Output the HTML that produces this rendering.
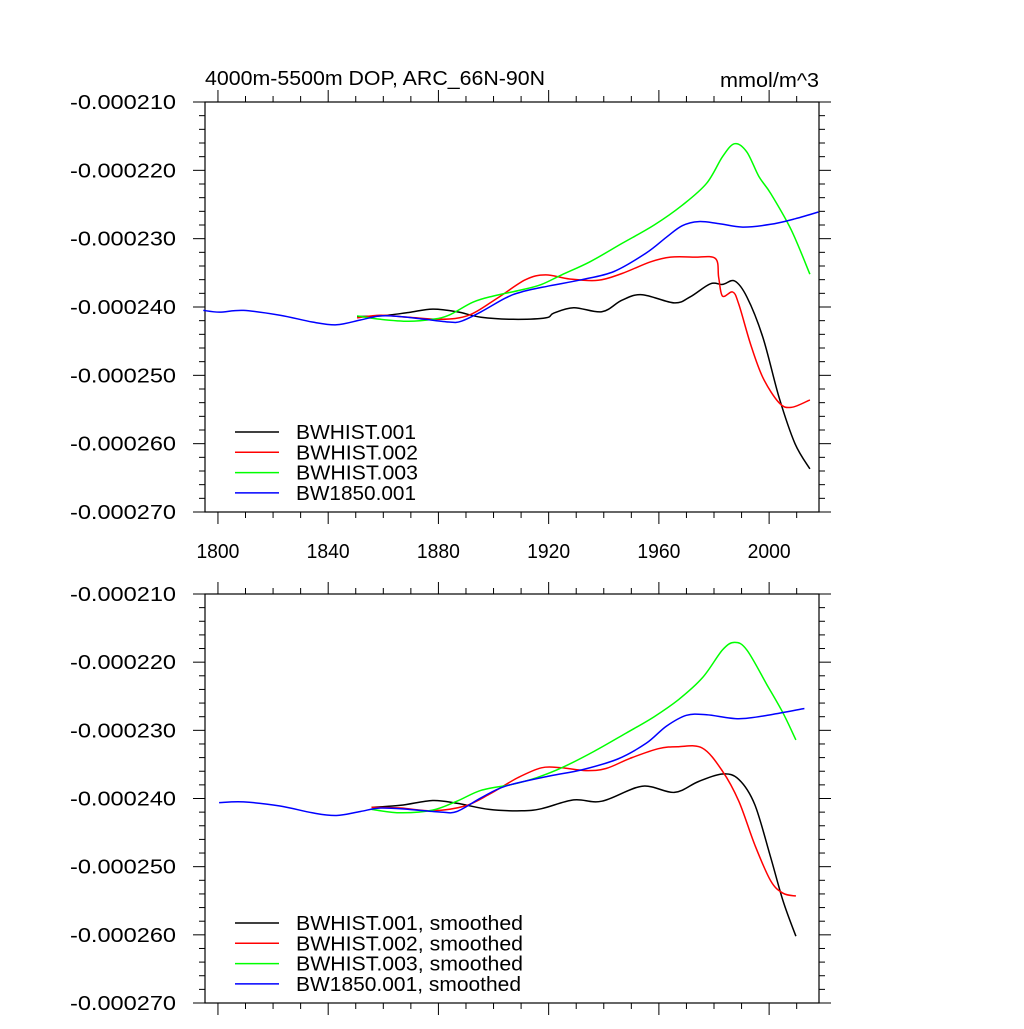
<!DOCTYPE html>
<html><head><meta charset="utf-8"><style>
body{margin:0;background:#fff}
svg text{font-family:"Liberation Sans",sans-serif;fill:#000}
</style></head><body>
<svg id="c" width="1024" height="1024" viewBox="0 0 1024 1024" xmlns="http://www.w3.org/2000/svg"></svg>
<script>
const xTickYears=[1800,1840,1880,1920,1960,2000];
const yTickVals=[-210,-220,-230,-240,-250,-260,-270];
const yTickLabels=["-0.000210","-0.000220","-0.000230","-0.000240","-0.000250","-0.000260","-0.000270"];
const seriesNames=["BWHIST.001","BWHIST.002","BWHIST.003","BW1850.001"];
const seriesColors=["#000","#f00","#0f0","#00f"];
// top panel (values in 1e-6 mmol/m^3)
const t1Years=[1850.5,1859,1869.2,1877.9,1886.7,1895.5,1907.1,1918.9,1921.8,1929.1,1939.3,1946.6,1953.9,1965.6,1971.4,1978.7,1983.1,1987.5,1991.9,1997.7,2003.6,2009.4,2014.8];
const t1Vals=[-241.4,-241.3,-240.8,-240.3,-240.7,-241.5,-241.8,-241.6,-240.9,-240.1,-240.7,-239.0,-238.2,-239.4,-238.5,-236.6,-236.7,-236.2,-238.5,-244.4,-253.2,-260.0,-263.7];
const t2Years=[1850.5,1859,1869.2,1880.9,1891.1,1901.4,1911.6,1918.9,1927.6,1937.9,1946.6,1956.9,1964.2,1972.9,1980.5,1981.7,1983.1,1986.8,1989,1993.3,1997.7,2003.6,2008,2014.8];
const t2Vals=[-241.6,-241.2,-241.5,-241.8,-241.2,-238.7,-236.0,-235.3,-235.9,-236.1,-235.1,-233.4,-232.7,-232.7,-232.9,-235.7,-238.4,-237.8,-239.6,-245.5,-250.3,-254.0,-254.7,-253.6];
const t3Years=[1850.5,1859,1869.2,1877.9,1883.8,1892.5,1899.8,1910.1,1917.4,1924.7,1934.9,1946.6,1958.3,1968.5,1977.3,1983.1,1987.5,1991.9,1996.3,2000.6,2008,2014.8];
const t3Vals=[-241.3,-241.8,-242.1,-241.8,-241.2,-239.3,-238.4,-237.5,-236.7,-235.3,-233.4,-230.7,-228.0,-225.1,-221.9,-218.0,-216.1,-217.3,-220.9,-223.4,-228.7,-235.2];
const t4Years=[1794.7,1800.6,1809.3,1822.5,1834.2,1843,1851.7,1859,1866.3,1875.1,1883.8,1888.2,1895.5,1904.3,1910.1,1920.3,1932,1943.7,1955.4,1962.7,1968.5,1974.4,1981.7,1990.4,2000.6,2009.4,2017.9];
const t4Vals=[-240.5,-240.75,-240.5,-241.2,-242.2,-242.6,-241.9,-241.3,-241.4,-241.8,-242.2,-242.1,-240.7,-238.7,-237.8,-236.9,-236.0,-234.8,-232.1,-229.8,-228.1,-227.5,-227.8,-228.3,-227.9,-227.1,-226.1];
// bottom panel (smoothed)
const b1Years=[1855.7,1866.3,1877.9,1886.7,1898.4,1910.1,1917.4,1929.1,1939.3,1953.9,1965.6,1974.4,1983.1,1989,1994.8,2000.6,2005.1,2009.7];
const b1Vals=[-241.3,-241.0,-240.3,-240.7,-241.6,-241.8,-241.5,-240.2,-240.4,-238.2,-239.1,-237.5,-236.4,-237.2,-240.9,-248.7,-255.1,-260.2];
const b2Years=[1855.7,1866.3,1877.9,1889.6,1898.4,1908.6,1917.4,1924.7,1933.5,1940.8,1949.6,1959.8,1967.1,1975.8,1983.1,1989,1994.8,2000.6,2005.1,2009.7];
const b2Vals=[-241.3,-241.4,-241.8,-241.1,-239.4,-237.0,-235.5,-235.5,-235.9,-235.6,-234.1,-232.7,-232.4,-232.6,-236.0,-240.4,-246.8,-252.1,-253.9,-254.3];
const b3Years=[1855.7,1866.3,1877.9,1886.7,1895.5,1907.1,1915.9,1924.7,1936.4,1948.1,1958.3,1967.1,1975.8,1983.1,1987.5,1991.9,1999.2,2005.1,2009.7];
const b3Vals=[-241.6,-242.1,-241.7,-240.4,-238.8,-237.9,-236.9,-235.5,-233.1,-230.4,-228.0,-225.5,-222.3,-218.2,-217.1,-218.2,-223.3,-227.5,-231.4];
const b4Years=[1800.4,1809.3,1822.5,1834.2,1843,1851.7,1859,1869.2,1880.9,1886.7,1895.5,1904.3,1920.3,1932,1945.1,1955.4,1962.7,1970,1977.3,1989,2000.6,2012.8];
const b4Vals=[-240.6,-240.5,-241.1,-242.1,-242.5,-241.9,-241.4,-241.6,-242.0,-241.9,-239.9,-238.2,-236.7,-235.8,-234.2,-231.9,-229.4,-227.8,-227.7,-228.3,-227.7,-226.8];

const NS="http://www.w3.org/2000/svg";
const svg=document.getElementById('c');
function mk(tag,attrs,parent){const e=document.createElementNS(NS,tag);for(const k in attrs)e.setAttribute(k,attrs[k]);(parent||svg).appendChild(e);return e;}
const L=205,R=819,X0=1795.3,X1=2018.1;
function xs(yr){return L+(yr-X0)/(X1-X0)*(R-L);}
function smoothPath(P){
  let d='M'+P[0][0].toFixed(1)+','+P[0][1].toFixed(1);
  for(let i=0;i<P.length-1;i++){
    const p0=P[Math.max(0,i-1)],p1=P[i],p2=P[i+1],p3=P[Math.min(P.length-1,i+2)];
    const c1=[p1[0]+(p2[0]-p0[0])/6,p1[1]+(p2[1]-p0[1])/6];
    const c2=[p2[0]-(p3[0]-p1[0])/6,p2[1]-(p3[1]-p1[1])/6];
    d+=' C'+c1[0].toFixed(1)+','+c1[1].toFixed(1)+' '+c2[0].toFixed(1)+','+c2[1].toFixed(1)+' '+p2[0].toFixed(1)+','+p2[1].toFixed(1);
  }
  return d;
}

function panel(top,bot,series,labels,showX,nameP,legW){
  const g=mk('g',{});
  
  
  function ys(v){return top+(-210-v)/60*(bot-top);}
  const frame=mk('rect',{x:L,y:top,width:R-L,height:bot-top,fill:'none',stroke:'#000','stroke-width':1.2},g);
  
  
  for(let yr=1800;yr<=2010;yr+=10){
    const x=xs(yr);const maj=xTickYears.includes(yr);const len=maj?12:6;
    mk('line',{x1:x,x2:x,y1:bot,y2:bot+len,stroke:'#000','stroke-width':1},g);
    mk('line',{x1:x,x2:x,y1:top,y2:top-len,stroke:'#000','stroke-width':1},g);
  }
  if(showX){xTickYears.forEach(yr=>{const t=mk('text',{x:xs(yr),y:bot+46,'font-size':20,'text-anchor':'middle',textLength:43,lengthAdjust:'spacingAndGlyphs'},g);t.textContent=yr;
    
    });}
  for(let v=-210;v>=-270;v-=2){
    const y=ys(v);const maj=(v%10===0);const len=maj?12:6;
    mk('line',{x1:L,x2:L-len,y1:y,y2:y,stroke:'#000','stroke-width':1},g);
    mk('line',{x1:R,x2:R+len,y1:y,y2:y,stroke:'#000','stroke-width':1},g);
  }
  yTickVals.forEach((v,i)=>{const t=mk('text',{x:70,y:ys(v)+7,'font-size':20,textLength:106,lengthAdjust:'spacingAndGlyphs'},g);t.textContent=yTickLabels[i];
    
    });
  series.forEach((s,i)=>{
    const P=s[0].map((yr,j)=>[xs(yr),ys(s[1][j])]);
    const p=mk('path',{d:smoothPath(P),fill:'none',stroke:seriesColors[i],'stroke-width':1.5,'stroke-linejoin':'round'},g);
    
    
  });
  const lg0=bot-80;
  labels.forEach((lab,i)=>{
    const y=lg0+i*20.3;
    const ln=mk('line',{x1:235,x2:279,y1:y,y2:y,stroke:seriesColors[i],'stroke-width':1.5},g);
    
    
    const t=mk('text',{x:296,y:y+7,'font-size':20,textLength:legW[i],lengthAdjust:'spacingAndGlyphs'},g);t.textContent=lab;
    
    
  });
}
panel(102,512,[[t1Years,t1Vals],[t2Years,t2Vals],[t3Years,t3Vals],[t4Years,t4Vals]],seriesNames,true,'top',[120,122,122,120]);
panel(594,1003,[[b1Years,b1Vals],[b2Years,b2Vals],[b3Years,b3Vals],[b4Years,b4Vals]],seriesNames.map(s=>s+', smoothed'),false,'bottom',[227,227,227,225]);
const tt=mk('text',{x:205,y:85,'font-size':20,textLength:340,lengthAdjust:'spacingAndGlyphs'});tt.textContent='4000m-5500m DOP, ARC_66N-90N';


const un=mk('text',{x:720,y:87,'font-size':20,textLength:99,lengthAdjust:'spacingAndGlyphs'});un.textContent='mmol/m^3';


</script>
</body></html>
